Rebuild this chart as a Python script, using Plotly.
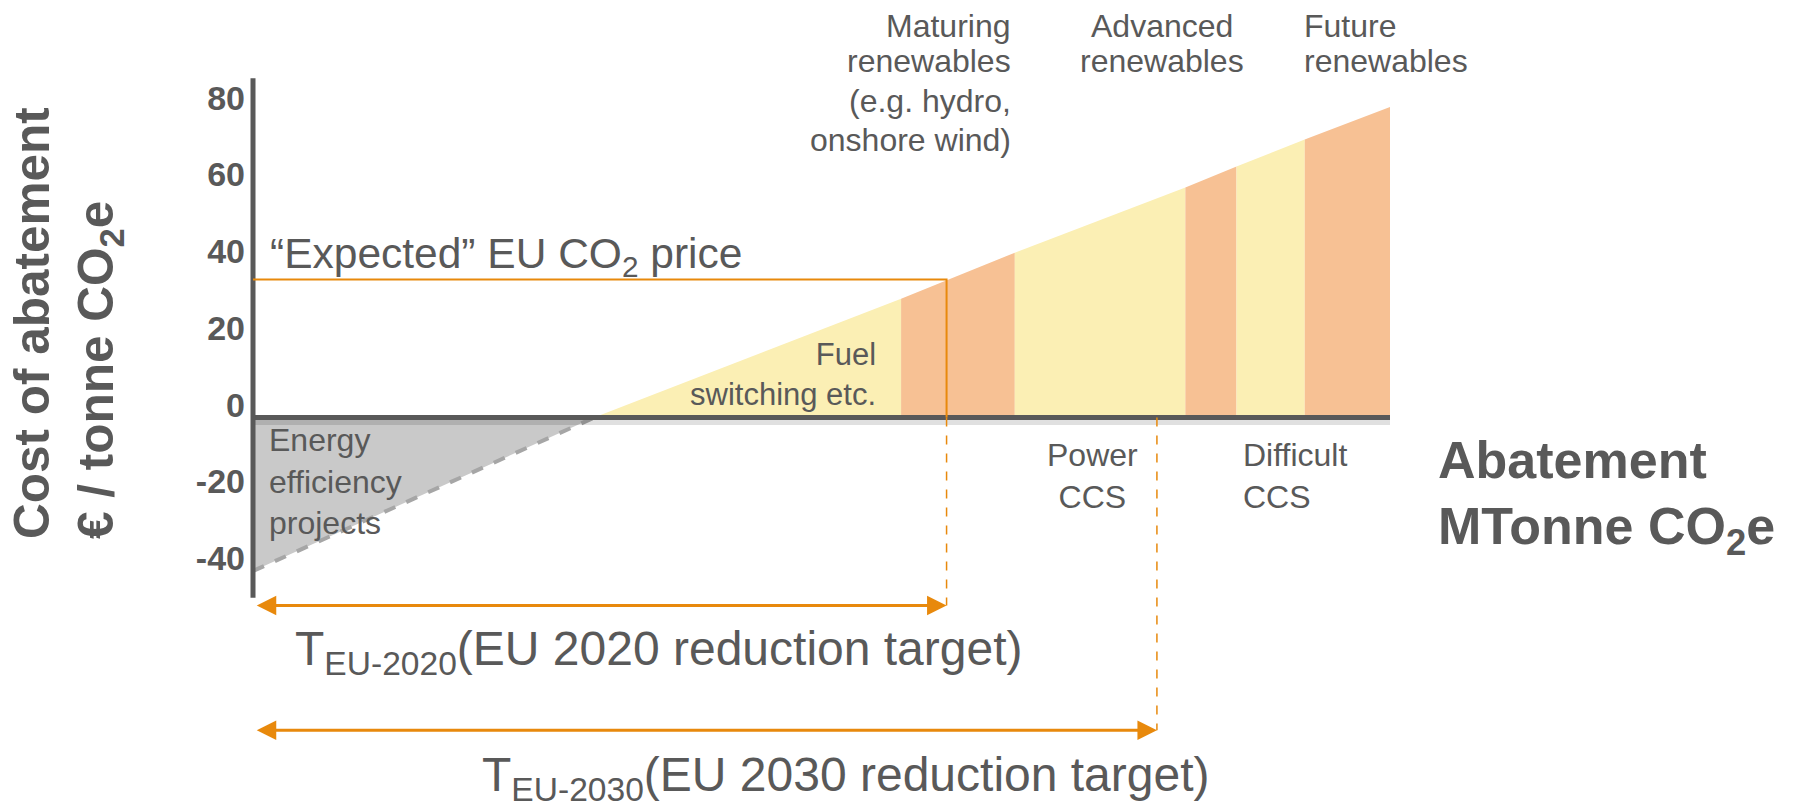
import plotly.graph_objects as go

# ---------------- data ----------------
# abatement steps (MTonne CO2e, arbitrary units) and cost (EUR / tonne CO2e)
step_x = [30, 57, 67, 82, 86.5, 92.5, 100]
step_cost = [0, 31, 43, 60, 65.5, 72.5, 81]
step_kind = ["yellow", "orange", "yellow", "orange", "yellow", "orange"]

ee_x = [0, 30]          # energy efficiency projects (negative cost)
ee_cost = [-40, 0]

co2_price = 36          # "Expected" EU CO2 price
target_2020 = 61        # abatement reached at the CO2 price
target_2030 = 79.5

y_ticks = [-40, -20, 0, 20, 40, 60, 80]
y_axis_span = [-47, 88.5]
x_axis_end = 100
arrow_2020_y = -49
arrow_2030_y = -81.5

maturing_lines = ["Maturing", "renewables", "(e.g. hydro,", "onshore wind)"]
advanced_lines = ["Advanced", "renewables"]
future_lines = ["Future", "renewables"]

# ---------------- styles / geometry ----------------
GREY = "#595959"
ORANGE = "#E8890C"
YELLOW = "#FBEFB4"
SALMON = "#F7C194"
FONT = "Liberation Sans, Arial, sans-serif"
fill_of = {"yellow": YELLOW, "orange": SALMON}

W, H = 1794, 802
OFF = 8                      # page body offset
ML, MR, MT, MB = 150, 0, 0, 0
px_per_x = 11.37
px_per_y = 3.835
REF_X0, REF_Y0 = 253, 417.6  # where the axes cross in the page
x0_px, y0_px = REF_X0 - OFF, REF_Y0 - OFF


def dx(px):
    return (px - REF_X0) / px_per_x


def dy(py):
    return (REF_Y0 - py) / px_per_y


fig = go.Figure()

# energy efficiency triangle
fig.add_trace(go.Scatter(
    x=[ee_x[0], ee_x[0], ee_x[1], ee_x[0]],
    y=[0, ee_cost[0], ee_cost[1], 0],
    fill="toself", fillcolor="#C9C9C9", line=dict(width=0),
    mode="lines", hoverinfo="skip", showlegend=False))
fig.add_trace(go.Scatter(
    x=ee_x, y=ee_cost, mode="lines",
    line=dict(color="#A6A6A6", width=4, dash="dash"),
    hoverinfo="skip", showlegend=False))

# cost curve blocks
for i, kind in enumerate(step_kind):
    x0, x1 = step_x[i], step_x[i + 1]
    c0, c1 = step_cost[i], step_cost[i + 1]
    fig.add_trace(go.Scatter(
        x=[x0, x0, x1, x1, x0], y=[0, c0, c1, 0, 0],
        fill="toself", fillcolor=fill_of[kind], line=dict(width=0),
        mode="lines", hoverinfo="skip", showlegend=False))

# zero line shadow + axis lines
fig.add_trace(go.Scatter(x=[0, x_axis_end], y=[-1.3, -1.3], mode="lines",
                         line=dict(color="rgba(0,0,0,0.12)", width=5),
                         hoverinfo="skip", showlegend=False))
fig.add_trace(go.Scatter(x=[0, x_axis_end], y=[0, 0], mode="lines",
                         line=dict(color=GREY, width=5),
                         hoverinfo="skip", showlegend=False))
fig.add_trace(go.Scatter(x=[0, 0], y=y_axis_span, mode="lines",
                         line=dict(color=GREY, width=5),
                         hoverinfo="skip", showlegend=False))

# CO2 price line
fig.add_trace(go.Scatter(x=[0, target_2020, target_2020], y=[co2_price, co2_price, 0],
                         mode="lines", line=dict(color=ORANGE, width=2),
                         hoverinfo="skip", showlegend=False))
# dashed target drops
fig.add_trace(go.Scatter(x=[target_2020, target_2020], y=[0, arrow_2020_y],
                         mode="lines", line=dict(color=ORANGE, width=1.5, dash="dash"),
                         hoverinfo="skip", showlegend=False))
fig.add_trace(go.Scatter(x=[target_2030, target_2030], y=[0, arrow_2030_y],
                         mode="lines", line=dict(color=ORANGE, width=1.5, dash="dash"),
                         hoverinfo="skip", showlegend=False))

# double-headed arrows
for xe, ya in [(target_2020, arrow_2020_y), (target_2030, arrow_2030_y)]:
    fig.add_annotation(x=xe, y=ya, ax=0.2, ay=ya, xref="x", yref="y",
                       axref="x", ayref="y", text="", showarrow=True,
                       arrowhead=2, startarrowhead=2, arrowside="end+start",
                       arrowsize=1.3, startarrowsize=1.3,
                       arrowwidth=3, arrowcolor=ORANGE)


def label(text, x, y, size=31, xanchor="left", align="left", bold=False,
          angle=0, xref="x", yref="y", yanchor="middle"):
    fig.add_annotation(x=x, y=y, xref=xref, yref=yref, text=text, showarrow=False,
                       xanchor=xanchor, yanchor=yanchor, align=align,
                       textangle=angle,
                       font=dict(family=FONT, size=size, color=GREY,
                                 weight="bold" if bold else "normal"))


top_line_y = [25.5, 61, 101, 140]
for line, py in zip(maturing_lines, top_line_y):
    label(line, dx(1012.5), dy(py), size=32, xanchor="right", align="right")
for line, py in zip(advanced_lines, top_line_y):
    label(line, dx(1162), dy(py), size=32, xanchor="center", align="center")
for line, py in zip(future_lines, top_line_y):
    label(line, dx(1302), dy(py), size=32)

label("Fuel<br>switching etc.", 55.0, 11.2, xanchor="right", align="right")
label("Energy<br>efficiency<br>projects", 1.2, -16.6, size=32)
label("Power<br>CCS", 73.8, -15.3, size=32, xanchor="center", align="center")
label("Difficult<br>CCS", 86.9, -15.3, size=32)
label("Abatement", dx(1436), dy(460), size=52, bold=True)
label("MTonne CO<sub>2</sub>e", dx(1436), dy(530), size=52, bold=True)
label("“Expected” EU CO<sub>2</sub> price", 1.3, 42.0, size=42.5)
label("T<sub>EU-2020</sub>(EU 2020 reduction target)", 3.5, -61.0, size=48)
label("T<sub>EU-2030</sub>(EU 2030 reduction target)", 20.0, 0,
      size=48, yref="paper", yanchor="bottom")
# y axis title (placed in the left margin)
label("Cost of abatement<br>€ / tonne CO<sub>2</sub>e",
      (67 - OFF - ML) / (W - ML - MR), (H - (323 - OFF)) / H, size=49.5,
      xanchor="center", align="left", bold=True, angle=-90,
      xref="paper", yref="paper")

x_range = [(ML - x0_px) / px_per_x, (W - MR - x0_px) / px_per_x]
y_range = [(y0_px - (H - MB)) / px_per_y, (y0_px - MT) / px_per_y]

fig.update_layout(
    width=W, height=H,
    margin=dict(l=ML, r=MR, t=MT, b=MB),
    paper_bgcolor="white", plot_bgcolor="white",
    xaxis=dict(range=x_range, visible=False, fixedrange=True, automargin=False),
    yaxis=dict(range=y_range, anchor="free", position=(x0_px - ML) / (W - ML - MR),
               tickvals=y_ticks, ticktext=[str(v) for v in y_ticks],
               showgrid=False, zeroline=False, showline=False, ticks="",
               ticklabelshift=-13, ticklabelstandoff=8, automargin=False,
               tickfont=dict(family=FONT, size=34, color=GREY, weight="bold"),
               fixedrange=True),
    showlegend=False,
)

fig.write_html("out.html")
